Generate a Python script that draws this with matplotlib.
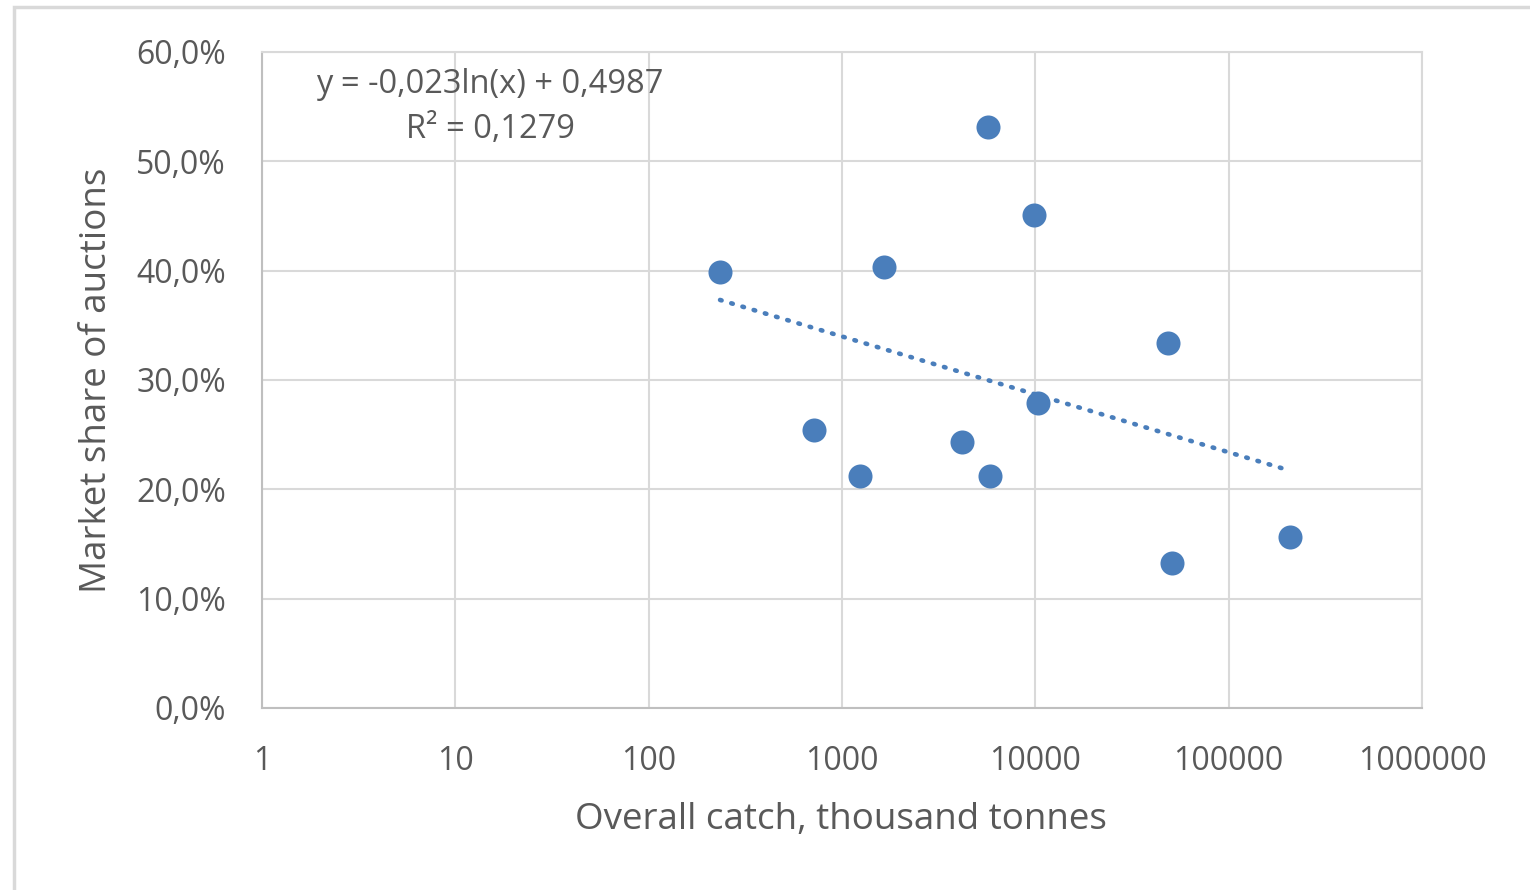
import numpy as np
import matplotlib
matplotlib.use("Agg")
import matplotlib.pyplot as plt
from matplotlib.patches import Rectangle
from matplotlib.ticker import FuncFormatter, FixedLocator

# ---- data ----
catch_thousand_t = [234, 717, 1241, 1651, 4178, 5698, 5833, 9860, 10330, 48700, 51000, 208000]
auction_share = [0.399, 0.254, 0.212, 0.403, 0.243, 0.531, 0.212, 0.451, 0.279, 0.334, 0.133, 0.156]
trend_a = -0.023
trend_b = 0.4987
x_ticks = [1, 10, 100, 1000, 10000, 100000, 1000000]
y_ticks = [0.0, 0.1, 0.2, 0.3, 0.4, 0.5, 0.6]
eq_text = "y = -0,023ln(x) + 0,4987\nR² = 0,1279"

plt.rcParams['font.family'] = ['Open Sans', 'DejaVu Sans']
txt = '#595959'
grid_c = '#d9d9d9'
pt_c = '#4a7ebb'

fig = plt.figure(figsize=(15.3, 8.9), dpi=100)
ax = fig.add_axes([262/1530, 1 - 708/890, (1422-262)/1530, (708-52)/890])

ax.set_xscale('log')
ax.set_xlim(1, 1e6)
ax.set_ylim(0, 0.6)

ax.xaxis.set_major_locator(FixedLocator(x_ticks))
ax.xaxis.set_minor_locator(FixedLocator([]))
ax.xaxis.set_major_formatter(FuncFormatter(lambda v, p: f"{int(round(v))}"))
ax.yaxis.set_major_locator(FixedLocator(y_ticks))
ax.yaxis.set_major_formatter(FuncFormatter(lambda v, p: f"{v*100:.1f}%".replace('.', ',')))

ax.grid(True, color=grid_c, linewidth=1.5, zorder=0)
ax.set_axisbelow(True)
for s in ax.spines.values():
    s.set_color(grid_c)
    s.set_linewidth(1.5)
ax.spines['left'].set_color('#bfbfbf')
ax.spines['bottom'].set_color('#bfbfbf')
ax.tick_params(length=0, labelsize=23, labelcolor=txt, pad=26)
ax.tick_params(axis='x', pad=27)

ax.scatter(catch_thousand_t, auction_share, s=24**2 * 0.52, color=pt_c, zorder=3, linewidths=0)

xs = np.geomspace(min(catch_thousand_t), max(catch_thousand_t), 200)
ax.plot(xs, trend_a * np.log(xs) + trend_b, color=pt_c, linewidth=3.3, linestyle=(0, (0.35, 2.2)),
        dash_capstyle='round', zorder=2)

fig.text(490/1530, 1 - 107/890, eq_text, ha='center', va='center', fontsize=23.5, color=txt,
         linespacing=1.45)

ax.set_xlabel("Overall catch, thousand tonnes", fontsize=26.5, color=txt)
ax.set_ylabel("Market share of auctions", fontsize=26.5, color=txt)
ax.xaxis.set_label_coords((841-262)/(1422-262), (708-820)/(708-52), transform=ax.transAxes)
ax.yaxis.set_label_coords((97-262)/(1422-262), (708-380)/(708-52), transform=ax.transAxes)
ax.xaxis.label.set_va('center')
ax.yaxis.label.set_va('center')

fig.patches.append(Rectangle((14/1530, -0.2), 2, 1.2 - 7/890, transform=fig.transFigure,
                             fill=False, edgecolor=grid_c, linewidth=2.5))

fig.savefig("out.png", dpi=100)
